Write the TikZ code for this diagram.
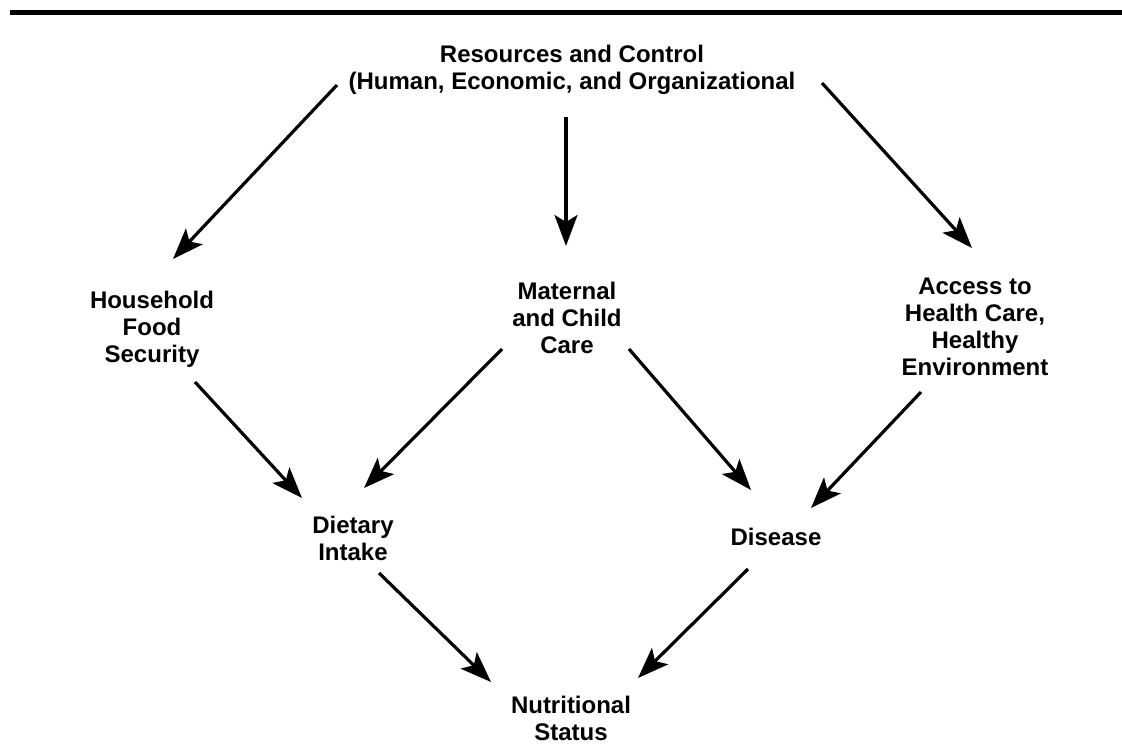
\documentclass[tikz,border=0pt]{standalone}
\usepackage{fontspec}
\setmainfont{Liberation Sans}
\usetikzlibrary{arrows.meta}
\begin{document}
\begin{tikzpicture}[x=1pt,y=-1pt,
  lbl/.style={font=\fontsize{24}{27}\selectfont\bfseries, align=center, inner sep=0pt},
  arr/.style={line width=3.2pt, -{Stealth[length=31pt,width=23pt,inset=7pt]}}]
\useasboundingbox (0,0) rectangle (1122,745);
\draw[line width=5pt] (10,12.5) -- (1122,12.5);
% nodes
\node[lbl] (res) at (572,70) {Resources and Control\\(Human, Economic, and Organizational};
\node[lbl] (hfs) at (152,329) {Household\\Food\\Security};
\node[lbl] (mcc) at (567,318) {Maternal\\and Child\\Care};
\node[lbl] (acc) at (975,327) {Access to\\Health Care,\\Healthy\\Environment};
\node[lbl] (diet) at (353,538) {Dietary\\Intake};
\node[lbl] (dis) at (776,537) {Disease};
\node[lbl] (nut) at (571,718) {Nutritional\\Status};
% connector ends
\coordinate (r1) at (337,85);  \coordinate (h1) at (173,259);
\coordinate (r2) at (566,117); \coordinate (m1) at (566,246);
\coordinate (r3) at (822,83);  \coordinate (a1) at (972,248);
\coordinate (h2) at (195,382); \coordinate (d1) at (302,498);
\coordinate (m2) at (502,349); \coordinate (d2) at (364,488);
\coordinate (m3) at (629,349); \coordinate (s1) at (751,490);
\coordinate (a2) at (921,392); \coordinate (s2) at (811,508);
\coordinate (d3) at (379,573); \coordinate (n1) at (491,682);
\coordinate (s3) at (748,569); \coordinate (n2) at (638,678);
% connectors
\draw[arr] (r1) -- (h1);
\draw[arr] (r2) -- (m1);
\draw[arr] (r3) -- (a1);
\draw[arr] (h2) -- (d1);
\draw[arr] (m2) -- (d2);
\draw[arr] (m3) -- (s1);
\draw[arr] (a2) -- (s2);
\draw[arr] (d3) -- (n1);
\draw[arr] (s3) -- (n2);
\end{tikzpicture}
\end{document}
